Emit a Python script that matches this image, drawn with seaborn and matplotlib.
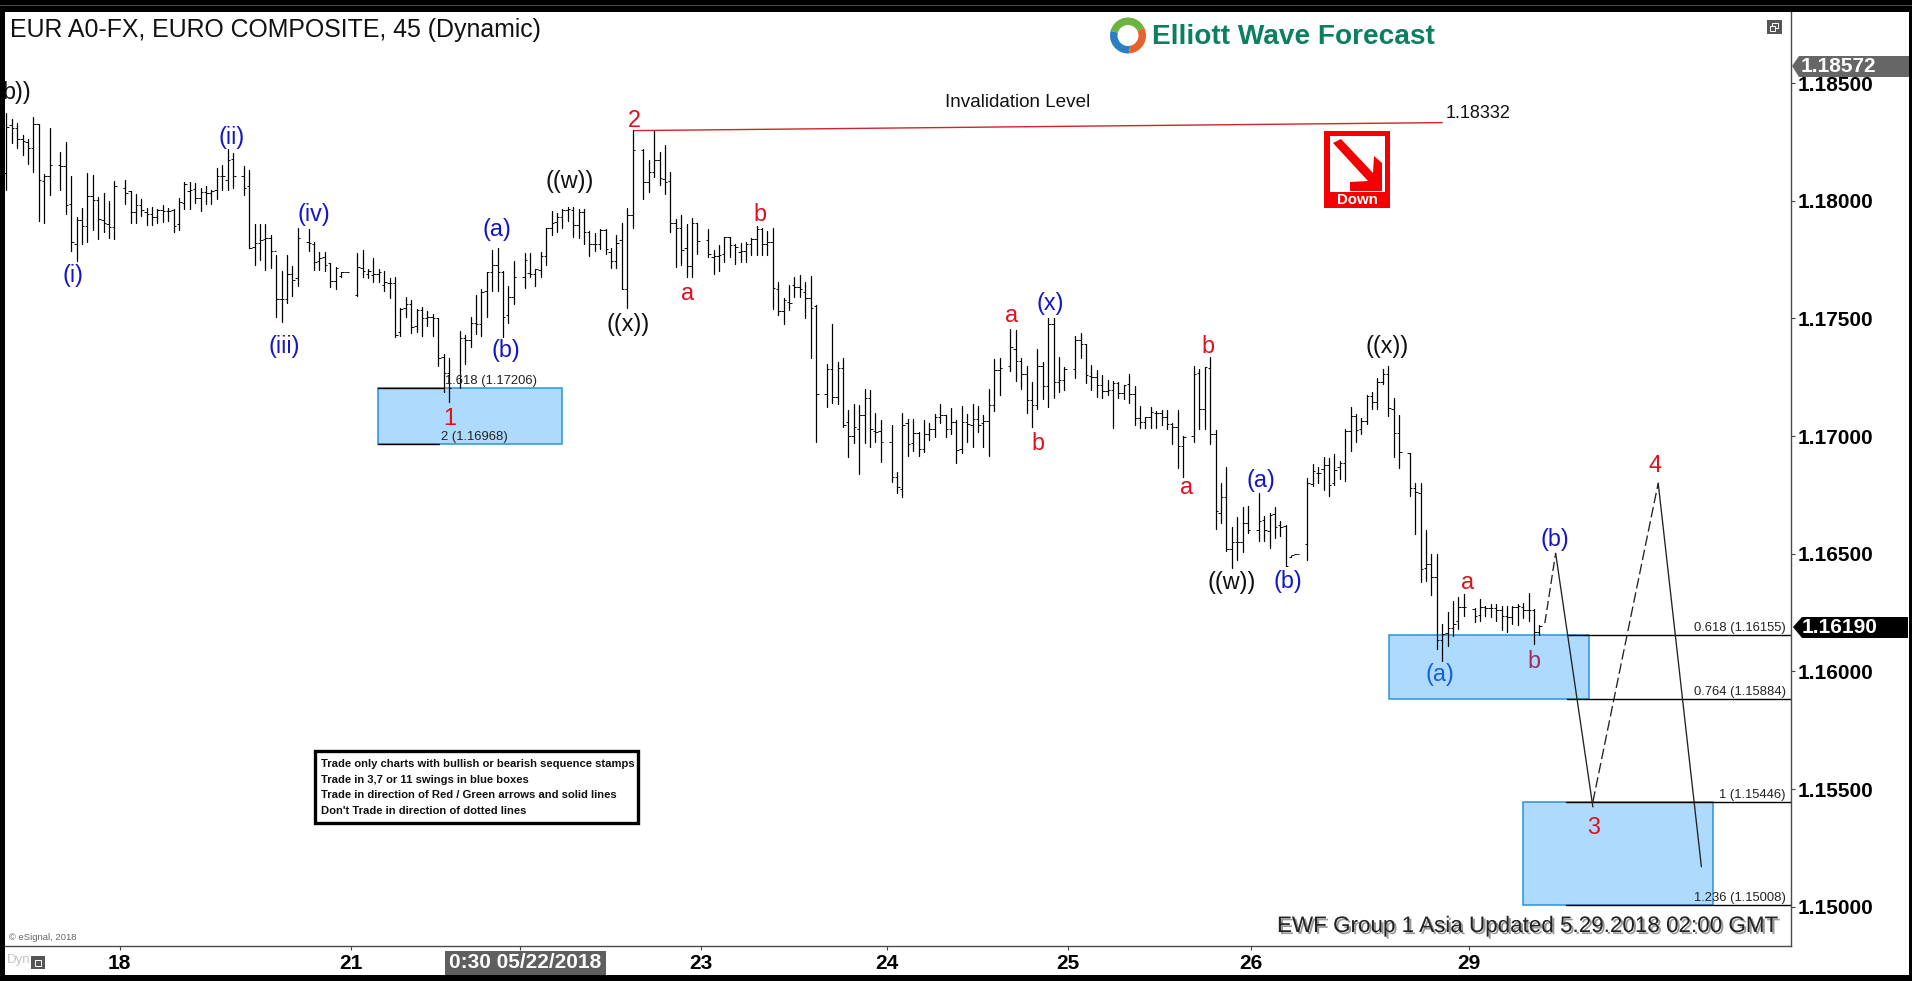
import numpy as np
import pandas as pd
import seaborn as sns
import matplotlib
matplotlib.use("Agg")
import matplotlib.pyplot as plt
from matplotlib.patches import Rectangle, Polygon, Wedge
from matplotlib.transforms import Affine2D
import matplotlib.patheffects as pe

N = None
# 45-minute OHLC bars, in 1/100000 of a price unit; N marks a slot with no bar
highs = [118372,118348,118329,118280,118261,118355,118325,118112,118308,N,
118206,118248,118105,117930,117968,118117,118110,118016,118032,117999,
118084,N,118088,118042,118029,118006,117968,117975,117964,117982,
117971,117964,118011,118078,118078,118074,118053,118063,118046,118138,
118152,118220,118202,N,118148,118131,117901,117901,
117901,117854,117769,117703,117769,117723,117883,N,117878,117823,
117784,117781,117734,117717,117696,117697,N,117779,117791,117710,
117755,117708,117703,117670,117674,117543,117590,117578,117540,117547,
117533,117517,117500,117349,117333,N,117447,117430,117507,117599,
117624,117699,117791,117798,117701,117638,117745,N,
117777,117777,117710,117781,117886,117958,117949,117964,117972,117972,
117965,117965,117873,117864,117880,117880,117798,117854,117904,117968,
118301,N,118218,118173,118301,118206,118237,118124,117922,117939,
117901,117925,117907,N,117880,117791,117812,117845,117845,117816,
117822,117826,117840,117894,117883,117871,117883,
117655,117585,117641,117677,117684,117655,117681,117556,N,117308,
117478,117313,117330,117110,117136,117131,117199,117195,117100,117068,
N,117049,116848,117096,117071,117071,117018,117068,117054,117093,
117136,117089,117120,117068,117127,117093,117136,117127,117089,117199,
117327,117330,N,117457,117450,117330,117297,
117228,117372,117313,117500,117500,117334,117294,N,117426,117440,
117393,117304,117280,117259,117238,117233,117228,117219,117262,117212,
117127,117082,117124,117107,117110,117110,117056,117110,117001,N,
117297,117287,117294,117334,117025,116802,116867,116612,116654,116700,
116704,N,116756,116660,116671,116697,116639,
116623,116492,116499,N,116821,116880,116870,116910,116906,116923,
116896,117029,117122,117093,117076,117175,117186,117246,117285,117298,
117161,117090,N,116930,116800,116800,116601,116499,116499,116202,
116252,116300,116315,116328,N,116269,116307,116276,116287,116287,
116276,116279,116279,116287,116290,116332,116264,116198]
lows = [118047,118247,118226,118195,118156,118120,117914,117907,118025,N,
118047,117944,117788,117746,117817,117826,117876,117838,117866,117841,
117838,N,117986,117907,117907,117937,117897,117897,117904,117911,
117914,117869,117876,117965,117965,117989,117957,117986,117986,118008,
118046,118046,118056,N,118025,117798,117727,117749,
117706,117713,117507,117486,117567,117595,117638,N,117788,117706,
117706,117701,117635,117626,117677,117696,N,117597,117677,117673,
117656,117656,117618,117588,117420,117427,117507,117437,117444,117427,
117468,117427,117298,117189,117146,N,117203,117306,117377,117434,
117425,117507,117618,117618,117420,117479,117560,N,
117628,117677,117639,117677,117727,117854,117869,117886,117915,117847,
117840,117816,117765,117788,117795,117774,117716,117716,117624,117546,
117886,N,118007,118039,118099,118067,118027,117869,117717,117727,
117677,117677,117774,N,117760,117687,117703,117738,117762,117730,
117741,117738,117770,117770,117770,117770,117539,
117514,117478,117535,117589,117592,117500,117330,116976,N,117124,
117139,117136,117037,116909,116969,116837,116969,116954,116976,116888,
N,116806,116756,116739,116916,116936,116916,116933,116983,116997,
117056,116997,117007,116887,116926,116976,116954,117018,116954,116916,
117107,117175,N,117277,117235,117198,117096,
117039,117117,117156,117124,117160,117188,117195,N,117248,117330,
117226,117195,117167,117160,117174,117035,117160,117157,117139,117049,
117035,117035,117035,117035,117046,117029,116966,116865,116827,N,
116976,117028,117032,116966,116605,116629,116513,116438,116473,116508,
116586,N,116555,116555,116525,116565,116576,
116446,116488,116498,N,116474,116788,116800,116771,116746,116793,
116818,116807,116938,116974,117008,117050,117115,117115,117220,117087,
116909,116866,N,116746,116584,116378,116386,116325,116094,116046,
116106,116151,116179,116236,N,116208,116216,116236,116229,116215,
116177,116169,116201,116198,116226,116212,116117,116155]
opens = [118119,118322,118311,118261,118248,118223,118325,118083,118105,N,
118151,118146,117985,117817,117918,117894,118022,118005,117916,117900,
117887,N,118053,118042,117954,117982,117951,117943,117930,117960,
117958,117962,117901,117989,118042,118050,118013,118039,118032,118045,
118107,118088,118176,N,118107,118063,117805,117819,
117836,117840,117786,117581,117581,117689,117670,N,117826,117815,
117744,117762,117734,117659,117680,117697,N,117599,117713,117689,
117684,117689,117642,117649,117652,117441,117543,117561,117468,117536,
117500,117507,117500,117335,117267,N,117224,117418,117408,117482,
117476,117618,117696,117727,117696,117514,117592,N,
117677,117692,117689,117706,117765,117883,117911,117932,117961,117961,
117897,117954,117866,117815,117815,117876,117784,117744,117833,117624,
117939,N,118216,118081,118121,118173,118091,118085,117904,117883,
117798,117724,117907,N,117833,117762,117765,117772,117845,117811,
117784,117788,117815,117836,117881,117816,117825,
117627,117532,117570,117641,117634,117613,117585,117553,N,117177,
117287,117167,117290,117058,117000,117032,117089,117160,117021,117022,
N,116973,116824,116777,117054,116969,117011,116947,117007,117032,
117082,117089,117032,117061,116943,117058,117049,117072,117054,117064,
117130,117280,N,117299,117368,117318,117263,
117153,117134,117297,117211,117476,117231,117240,N,117287,117408,
117391,117255,117252,117216,117191,117195,117226,117184,117221,117177,
117075,117058,117079,117099,117099,117079,117051,117039,116957,N,
117001,117266,117117,117291,117007,116674,116739,116518,116548,116548,
116629,N,116600,116643,116598,116668,116622,
116616,116488,116499,N,116540,116795,116842,116859,116877,116800,
116868,116885,117022,117087,117029,117062,117171,117144,117229,117263,
117114,117012,N,116927,116778,116757,116439,116457,116400,116134,
116162,116184,116212,116273,N,116264,116240,116273,116271,116271,
116262,116236,116233,116273,116273,116262,116262,116169]
closes = [118315,118311,118261,118255,118226,118325,118086,118103,118151,N,
118146,117982,117824,117918,117894,118022,118001,117921,117904,117887,
118063,N,118033,117954,117982,117961,117943,117930,117962,117958,
117958,117894,117994,118073,118047,118011,118039,118032,118042,118107,
118107,118173,118107,N,118056,117798,117819,117834,
117840,117786,117581,117581,117689,117663,117840,N,117819,117741,
117755,117727,117659,117716,117696,117697,N,117720,117703,117703,
117689,117699,117656,117652,117430,117539,117561,117462,117536,117500,
117505,117500,117330,117267,117203,N,117418,117408,117482,117476,
117614,117696,117727,117696,117507,117592,117674,N,
117748,117689,117709,117765,117883,117907,117932,117961,117964,117897,
117954,117866,117815,117815,117876,117794,117744,117822,117624,117939,
118216,N,118078,118121,118173,118095,118081,117904,117883,117791,
117724,117907,117829,N,117772,117765,117770,117845,117811,117805,
117787,117815,117837,117881,117815,117825,117628,
117532,117578,117566,117634,117627,117585,117546,117177,N,117287,
117167,117290,117047,117000,117037,117089,117160,117032,117018,116976,
N,116827,116785,117049,116966,117011,116947,117007,117028,117082,
117089,117032,117061,116940,117058,117051,117072,117047,117064,117130,
117280,117290,N,117379,117318,117263,117153,
117134,117297,117211,117476,117228,117240,117283,N,117408,117391,
117259,117252,117216,117191,117195,117226,117181,117216,117177,117075,
117058,117079,117103,117099,117079,117051,117039,116957,116997,N,
117263,117117,117293,117007,116681,116739,116518,116548,116548,116629,
116600,N,116640,116600,116664,116615,116615,
116448,116494,116499,N,116800,116852,116842,116877,116793,116856,
116885,117022,117087,117026,117064,117171,117144,117229,117263,117118,
117012,116931,N,116778,116764,116434,116457,116400,116134,116158,
116184,116202,116273,116273,N,116236,116273,116271,116271,116259,
116236,116233,116273,116276,116259,116262,116167,116194]

day_ticks = [21.0, 63.9, 95.1, 128.7, 163.1, 196.7, 230.6, 271.0]
day_labels = ["18", "21", "", "23", "24", "25", "26", "29"]
price_ticks = [1.15, 1.155, 1.16, 1.165, 1.17, 1.175, 1.18, 1.185]

# projected path after the last bar
proj_down1_x, proj_down1_y = [287.0, 293.9], [1.16502, 1.15424]
proj_dash1_x, proj_dash1_y = [285.0, 287.0], [1.16205, 1.16502]
proj_dash2_x, proj_dash2_y = [293.9, 306.0], [1.15446, 1.16800]
proj_down2_x, proj_down2_y = [306.0, 314.0], [1.16800, 1.15170]
inval_x, inval_y = [116.3, 266.0], [1.18298, 1.18332]

# (left bar, right bar, upper level, lower level)
boxes = [(68.9, 103.0, 1.17206, 1.16968), (256.1, 293.2, 1.16155, 1.15884), (281.0, 316.1, 1.15446, 1.15008)]
# (text, level, line start bar)
fib_left = [("1.618 (1.17206)", 1.17206, 68.9, 80.9), ("2 (1.16968)", 1.16968, 68.9, 80.2)]
fib_right = [("0.618 (1.16155)", 1.16155, 289.1), ("0.764 (1.15884)", 1.15884, 289.1),
             ("1 (1.15446)", 1.15446, 288.9), ("1.236 (1.15008)", 1.15008, 288.9)]

BLUE, RED, BLK, LB, MAR = "#1414c8", "#e0101c", "#111111", "#1560d8", "#a52a5a"
wave_labels = [("b))", 2.0, 1.18459, BLK), ("(i)", 12.4, 1.17682, BLUE), ("(ii)", 41.8, 1.18267, BLUE),
    ("(iii)", 51.5, 1.17381, BLUE), ("(iv)", 56.9, 1.17941, BLUE), ("(a)", 90.8, 1.17879, BLUE),
    ("(b)", 92.6, 1.17365, BLUE), ("((w))", 104.3, 1.18081, BLK), ("((x))", 115.2, 1.17474, BLK),
    ("2", 116.3, 1.18340, RED), ("a", 126.2, 1.17604, RED), ("b", 139.6, 1.17941, RED),
    ("a", 186.3, 1.17511, RED), ("(x)", 193.4, 1.17563, BLUE), ("b", 191.1, 1.16967, RED),
    ("b", 222.5, 1.17381, RED), ("a", 218.6, 1.16780, RED), ("(a)", 232.4, 1.16811, BLUE),
    ("((w))", 227.0, 1.16376, BLK), ("(b)", 237.4, 1.16381, BLUE), ("((x))", 255.7, 1.17381, BLK),
    ("a", 270.6, 1.16376, RED), ("(a)", 265.6, 1.15987, LB), ("b", 283.0, 1.16040, MAR),
    ("(b)", 286.8, 1.16562, BLUE), ("4", 305.4, 1.16873, RED), ("3", 294.1, 1.15335, RED),
    ("1", 82.2, 1.17075, RED)]

notes = ["Trade only charts with bullish or bearish sequence stamps", "Trade in 3,7 or 11 swings in blue boxes",
         "Trade in direction of Red / Green arrows and solid lines", "Don't Trade in direction of dotted lines"]

W, H = 1912, 981
sns.set_theme(style="white")
plt.rcParams["font.family"] = ["Liberation Sans", "DejaVu Sans"]

fig = plt.figure(figsize=(W / 100, H / 100), dpi=100, facecolor="black")
pix = Affine2D().scale(1, -1).translate(0, H)  # chrome placed in image pixels
fig.add_artist(Rectangle((5, 12), 1904, 963, transform=pix, fc="white", ec="none", zorder=-5))
fig.add_artist(Rectangle((0, 4.5), W, 1.2, transform=pix, fc="#4a4a4a", ec="none", zorder=-4))

ax = fig.add_axes([5 / W, 1 - 946 / H, 1786 / W, 934 / H], facecolor="white")

idx = np.arange(len(highs))
frame = pd.DataFrame({"bar": idx, "high": highs, "low": lows, "open": opens, "close": closes}, dtype=float).dropna()
frame[["high", "low", "open", "close"]] /= 1e5
long_hl = frame.melt(id_vars="bar", value_vars=["high", "low"], value_name="price")

sns.lineplot(data=long_hl, x="bar", y="price", units="bar", estimator=None, sort=False,
             color="black", lw=0.9, ax=ax, legend=False, zorder=3)
ax.hlines(frame["open"], frame["bar"] - 0.46, frame["bar"], color="black", lw=0.65, zorder=3)
ax.hlines(frame["close"], frame["bar"], frame["bar"] + 0.46, color="black", lw=0.65, zorder=3)

for x0, x1, top, bot in boxes:
    ax.add_patch(Rectangle((x0, bot), x1 - x0, top - bot, fc="#aedbfd", ec="#2a92dc", lw=1.1, zorder=1))

for txt, lev, x0, x1 in fib_left:
    ax.plot([x0, x1], [lev, lev], color="black", lw=1.0, zorder=2)
    ax.text(x1 + 0.3, lev + 0.00004, txt, fontsize=9.4, color="#222222", va="bottom", ha="left", zorder=4)
for txt, lev, x0 in fib_right:
    ax.plot([x0, 330.6], [lev, lev], color="black", lw=1.0, zorder=2)
    ax.text(329.6, lev + 0.00004, txt, fontsize=9.4, color="#222222", va="bottom", ha="right", zorder=4)

for xs, ys, ls in [(proj_dash1_x, proj_dash1_y, (0, (7, 3))), (proj_dash2_x, proj_dash2_y, (0, (8, 3))),
                   (proj_down1_x, proj_down1_y, "-"), (proj_down2_x, proj_down2_y, "-")]:
    sns.lineplot(x=xs, y=ys, color="#222222", lw=0.95, linestyle=ls, ax=ax, legend=False, sort=False, zorder=4)
sns.lineplot(x=inval_x, y=inval_y, color="#d0242a", lw=1.0, ax=ax, legend=False, sort=False, zorder=4)
ax.text(266.6, 1.18371, "1.18332", fontsize=13, color="#111111", va="center", ha="left")
ax.text(187.3, 1.18418, "Invalidation Level", fontsize=13.6, color="#111111", va="center", ha="center")

for txt, x, y, col in wave_labels:
    ax.text(x, y, txt, fontsize=16.8, color=col, ha="center", va="center", zorder=5, clip_on=True)

ax.set_xlim(-0.25, 330.6)
ax.set_ylim(1.14833, 1.18802)
ax.set_xlabel("")
ax.set_ylabel("")
ax.set_xticks(day_ticks, day_labels, fontsize=15, fontweight="bold", color="black")
ax.yaxis.tick_right()
ax.set_yticks(price_ticks, [f"{p:.5f}" for p in price_ticks], fontsize=15, fontweight="bold", color="black")
ax.tick_params(axis="x", bottom=True, length=3, width=0.8, color="#444444", pad=3)
ax.tick_params(axis="y", right=True, left=False, length=3, width=0.8, color="#444444", pad=2)
for side, sp in ax.spines.items():
    sp.set_visible(side in ("right", "bottom"))
    sp.set_color("#4a4a4a")
    sp.set_linewidth(1.0)

# title, logo, stamp and other chrome
fig.text(10, 30, "EUR A0-FX, EURO COMPOSITE, 45 (Dynamic)", transform=pix, fontsize=17.9, color="#111111", va="center")
for t0, t1, col in [(195, 335, "#6db33f"), (85, 195, "#2a7fc0"), (335, 445, "#e8602c")]:
    fig.add_artist(Wedge((1128, 35.5), 18, t0, t1, width=7.5, transform=pix, fc=col, ec="none"))
fig.text(1152, 37, "Elliott Wave Forecast", transform=pix, fontsize=20.2, fontweight="bold", color="#0b8060", va="center")

fig.add_artist(Rectangle((1767, 20), 15, 14, transform=pix, fc="#555555", ec="none"))
fig.add_artist(Rectangle((1772, 23), 6, 5, transform=pix, fc="none", ec="white", lw=0.7))
fig.add_artist(Rectangle((1770, 26), 5, 5, transform=pix, fc="#555555", ec="white", lw=0.7))

fig.add_artist(Rectangle((1324, 131), 66, 77, transform=pix, fc="#f40000", ec="none"))
fig.add_artist(Rectangle((1330, 136), 55, 56, transform=pix, fc="white", ec="none"))
fig.add_artist(Polygon([(1333, 143), (1341, 139), (1373, 173), (1374, 156), (1382, 163), (1382, 191),
                        (1350, 191), (1350, 182), (1368, 181)], closed=True, transform=pix, fc="#f40000", ec="none"))
fig.text(1357, 200.5, "Down", transform=pix, fontsize=10.8, fontweight="bold", color="white", ha="center", va="center")

fig.add_artist(Polygon([(1792, 66), (1799, 56), (1909, 56), (1909, 77), (1799, 77)], closed=True, transform=pix, fc="#666666", ec="none"))
fig.text(1801, 66.5, "1.18572", transform=pix, fontsize=15, fontweight="bold", color="white", va="center")
fig.add_artist(Polygon([(1793, 627), (1802, 617), (1908, 617), (1908, 638), (1802, 638)], closed=True, transform=pix, fc="black", ec="none"))
fig.text(1802, 627.5, "1.16190", transform=pix, fontsize=15, fontweight="bold", color="white", va="center")

fig.add_artist(Rectangle((444.5, 951), 161, 24, transform=pix, fc="#5f5f5f", ec="none"))
fig.text(525, 963, "0:30 05/22/2018", transform=pix, fontsize=15, fontweight="bold", color="white", ha="center", va="center")
fig.text(7, 960.5, "Dyn", transform=pix, fontsize=9.5, color="#c4c4c4", va="center")
fig.add_artist(Rectangle((31, 956), 14, 13, transform=pix, fc="#555555", ec="none"))
fig.add_artist(Rectangle((35, 960), 6, 6, transform=pix, fc="none", ec="white", lw=0.7))
fig.text(9, 938, "© eSignal, 2018", transform=pix, fontsize=6.8, color="#666666", va="center")

fig.add_artist(Rectangle((315, 750.5), 323, 72, transform=pix, fc="white", ec="black", lw=2.4))
for txt, y in zip(notes, [764, 780, 795, 810.7]):
    fig.text(321, y, txt, transform=pix, fontsize=8.07, fontweight="bold", color="#111111", va="center")

fig.text(1277, 926.5, "EWF Group 1 Asia Updated 5.29.2018 02:00 GMT", transform=pix, fontsize=16.15, color="#222222", va="center",
         path_effects=[pe.withSimplePatchShadow(offset=(1.5, -1.5), shadow_rgbFace="#555555", alpha=0.6)])

fig.savefig("out.png", dpi=100, facecolor=fig.get_facecolor())
